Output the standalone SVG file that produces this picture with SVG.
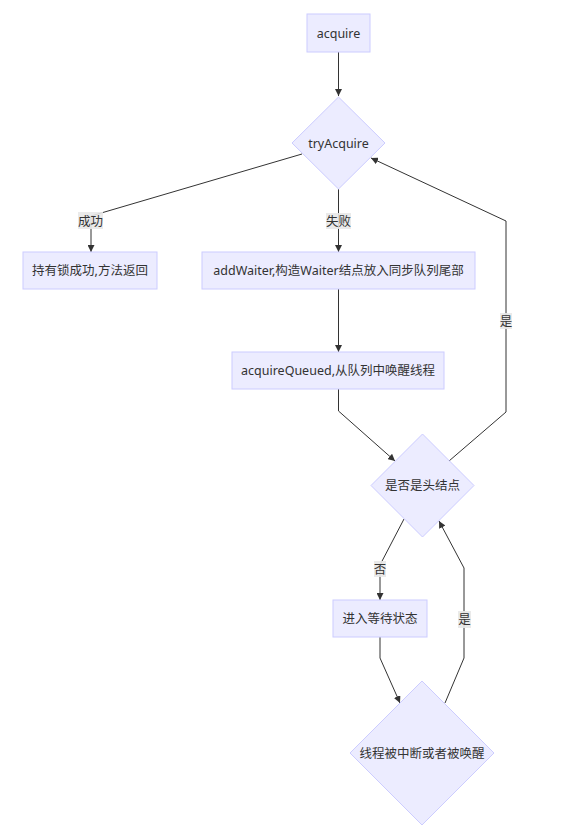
<svg xmlns="http://www.w3.org/2000/svg" width="568" height="825" viewBox="0 0 568 825">
<defs>
<style>
.node rect, .node polygon { fill: #ECECFF; stroke: #CCCCFF; stroke-width: 1; }
.node text, .label text { font-family: "Noto Sans", "Noto Sans CJK SC", sans-serif; font-size: 12.5px; fill: #333; text-anchor: middle; dominant-baseline: central; }
.edge { fill: none; stroke: #333; stroke-width: 1; marker-end: url(#arrow); }
.label rect { fill: #e8e8e8; opacity: 0.9; }
</style>
<marker id="arrow" viewBox="0 0 10 10" refX="10" refY="5" markerWidth="7" markerHeight="7" markerUnits="userSpaceOnUse" orient="auto">
<path d="M0,0 L10,5 L0,10 z" fill="#333"/>
</marker>
</defs>
<rect width="568" height="825" fill="#ffffff"/>
<g id="connectors">
<path class="edge" d="M338.5,52 L338.5,96"/>
<path class="edge" d="M302,154 L91,216 L91,252"/>
<path class="edge" d="M338.5,189 L338.5,252"/>
<path class="edge" d="M338.5,289 L338.5,352"/>
<path class="edge" d="M338.5,389 L338.5,411 L395,461"/>
<path class="edge" d="M449,461 L506,412 L506,221 L371,158"/>
<path class="edge" d="M404,519 L380,565 L380,600"/>
<path class="edge" d="M380,637 L380,658 L400,703"/>
<path class="edge" d="M445,703 L464,658 L464,568 L439,521"/>
<g class="label"><rect x="78" y="212" width="25" height="17"/><text x="90.5" y="221">成功</text></g>
<g class="label"><rect x="326" y="213" width="25" height="16"/><text x="338.5" y="221">失败</text></g>
<g class="label"><rect x="500" y="313" width="12" height="16"/><text x="506" y="321">是</text></g>
<g class="label"><rect x="374" y="561" width="12" height="16"/><text x="380" y="569">否</text></g>
<g class="label"><rect x="458" y="611" width="13" height="17"/><text x="464.5" y="619.5">是</text></g>
</g>
<g id="acquire" class="node"><rect x="307" y="14" width="63" height="38"/><text x="338.5" y="33">acquire</text></g>
<g id="tryAcquire" class="node"><polygon points="338.5,97 385,143 338.5,189 292,143"/><text x="338.5" y="143">tryAcquire</text></g>
<g id="success" class="node"><rect x="23" y="252" width="134" height="37"/><text x="90" y="270.5">持有锁成功,方法返回</text></g>
<g id="addWaiter" class="node"><rect x="202" y="252" width="273" height="37"/><text x="338.5" y="270.5">addWaiter,构造Waiter结点放入同步队列尾部</text></g>
<g id="acquireQueued" class="node"><rect x="232" y="352" width="212" height="37"/><text x="338" y="370.5">acquireQueued,从队列中唤醒线程</text></g>
<g id="isHead" class="node"><polygon points="422.5,434 474,485.5 422.5,537 371,485.5"/><text x="422.5" y="485.5">是否是头结点</text></g>
<g id="wait" class="node"><rect x="333" y="600" width="94" height="37"/><text x="380" y="618.5">进入等待状态</text></g>
<g id="interrupted" class="node"><polygon points="422,681 494,753 422,825 350,753"/><text x="422" y="753">线程被中断或者被唤醒</text></g>
</svg>
